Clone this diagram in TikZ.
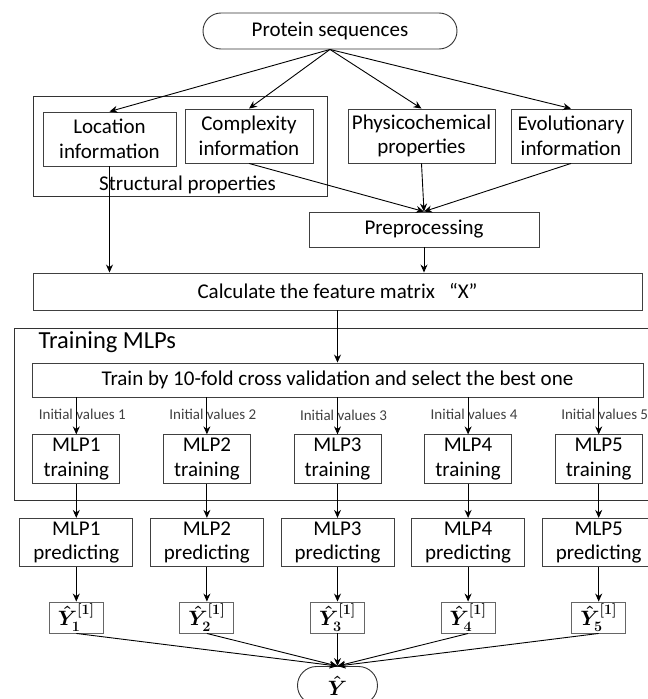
\documentclass[tikz,border=0pt]{standalone}
\usepackage{fontspec}
\setmainfont{Carlito}
\usepackage{amsmath}
\usetikzlibrary{arrows.meta, positioning}
\newcommand{\mainsize}{\fontsize{21}{24.5}\selectfont}
\newcommand{\smallsize}{\fontsize{15}{17}\selectfont}
\newcommand{\titlesize}{\fontsize{24.5}{29}\selectfont}
\tikzstyle{source} = [rectangle, rounded corners=18pt, minimum width=254pt, minimum height=36pt, text centered, draw=black!80, line width=0.9pt]
\tikzstyle{feature} = [rectangle, minimum height=54pt, text centered, draw=black!75, line width=0.9pt]
\tikzstyle{group} = [rectangle, draw=black!80, line width=0.9pt]
\tikzstyle{stage} = [rectangle, text centered, draw=black!75, line width=0.9pt]
\tikzstyle{mlp} = [rectangle, minimum width=87pt, minimum height=48pt, text centered, draw=black!75, line width=0.9pt]
\tikzstyle{predict} = [rectangle, minimum width=113pt, minimum height=48pt, text centered, draw=black!75, line width=0.9pt]
\tikzstyle{result} = [rectangle, minimum width=54pt, minimum height=31pt, inner sep=1pt, text centered, draw=black!60, line width=0.9pt]
\tikzstyle{final} = [rectangle, rounded corners=19pt, minimum width=80pt, minimum height=38pt, draw=black!80, line width=0.9pt]
\tikzstyle{initval} = [font=\smallsize, text=black!75, inner sep=0pt]
\tikzstyle{arrow} = [line width=0.9pt,-{Stealth[length=8pt,width=7pt]}]

\begin{document}
\begin{tikzpicture}[node distance=60pt, every node/.style={font=\mainsize}, align=center]
\useasboundingbox (-330pt,31pt) rectangle (318pt,-668pt);

% Input sequences
\node (prot) [source] {Protein sequences};

% Feature groups
\node (struct) [group, below of=prot, xshift=-150pt, yshift=-55pt, minimum width=294pt, minimum height=100pt] {};
\node (structlabel) [below of=struct, xshift=7.5pt, yshift=21pt, inner sep=0pt] {Structural properties};
\node (cplx) [feature, below of=prot, xshift=-81pt, yshift=-45pt, minimum width=128pt] {Complexity\\information};
\node (loc) [feature, left of=cplx, xshift=-79.5pt, yshift=-3pt, minimum width=133pt] {Location\\information};
\node (phys) [feature, below of=prot, xshift=91.5pt, yshift=-45pt, minimum width=147pt] {Physicochemical\\properties};
\node (evol) [feature, right of=phys, xshift=89.5pt, minimum width=120pt] {Evolutionary\\information};

\node (prep) [stage, below of=phys, xshift=2.5pt, yshift=-33.5pt, minimum width=230pt, minimum height=35pt] {Preprocessing};
\node (calc) [stage, below of=prep, xshift=-86.5pt, yshift=-2pt, minimum width=609pt, minimum height=37pt] {Calculate the feature matrix \hspace{0.45em}“X”};

% Training block
\node (train) [group, below of=calc, xshift=-0.5pt, yshift=-62.5pt, minimum width=646pt, minimum height=172pt] {};
\node (trainlabel) [right=25pt of train.north west, yshift=-15pt, inner sep=0pt, font=\titlesize] {Training MLPs};
\node (tenfold) [stage, below of=calc, yshift=-28.5pt, minimum width=611pt, minimum height=34pt] {Train by 10-fold cross validation and select the best one};

\node (mlp3) [mlp, below of=tenfold, yshift=-19pt] {MLP3\\training};
\node (mlp2) [mlp, left of=mlp3, xshift=-70.6pt] {MLP2\\training};
\node (mlp1) [mlp, left of=mlp2, xshift=-70.6pt] {MLP1\\training};
\node (mlp4) [mlp, right of=mlp3, xshift=70.6pt] {MLP4\\training};
\node (mlp5) [mlp, right of=mlp4, xshift=70.6pt] {MLP5\\training};

\node (init1) [initval, above of=mlp1, xshift=6pt, yshift=-15pt] {Initial values 1};
\node (init2) [initval, above of=mlp2, xshift=6pt, yshift=-15pt] {Initial values 2};
\node (init3) [initval, above of=mlp3, xshift=6pt, yshift=-16pt] {Initial values 3};
\node (init4) [initval, above of=mlp4, xshift=6pt, yshift=-15pt] {Initial values 4};
\node (init5) [initval, above of=mlp5, xshift=6pt, yshift=-15pt] {Initial values 5};

% Prediction
\node (pred1) [predict, below of=mlp1, yshift=-23.5pt] {MLP1\\predicting};
\node (pred2) [predict, below of=mlp2, yshift=-23.5pt] {MLP2\\predicting};
\node (pred3) [predict, below of=mlp3, yshift=-23.5pt] {MLP3\\predicting};
\node (pred4) [predict, below of=mlp4, yshift=-23.5pt] {MLP4\\predicting};
\node (pred5) [predict, below of=mlp5, yshift=-23.5pt] {MLP5\\predicting};

\node (y1) [result, below of=pred1, yshift=-15pt] {$\boldsymbol{\hat{Y}^{[1]}_{1}}$};
\node (y2) [result, below of=pred2, yshift=-15pt] {$\boldsymbol{\hat{Y}^{[1]}_{2}}$};
\node (y3) [result, below of=pred3, yshift=-15pt] {$\boldsymbol{\hat{Y}^{[1]}_{3}}$};
\node (y4) [result, below of=pred4, yshift=-15pt] {$\boldsymbol{\hat{Y}^{[1]}_{4}}$};
\node (y5) [result, below of=pred5, yshift=-15pt] {$\boldsymbol{\hat{Y}^{[1]}_{5}}$};

\node (out) [final, below of=y3, yshift=-8pt] {$\boldsymbol{\hat{Y}}$};

\draw[arrow] (prot.south) -- (loc.north);
\draw[arrow] (prot.south) -- (cplx.north);
\draw[arrow] (prot.south) -- (phys.north);
\draw[arrow] (prot.south) -- (evol.north);
\draw[arrow] (loc.south) -- (loc.south |- calc.north);
\draw[arrow] (cplx.south) -- (prep.north);
\draw[arrow] (phys.south) -- (prep.north);
\draw[arrow] (evol.south) -- (prep.north);
\draw[arrow] (prep.south) -- (prep.south |- calc.north);
\draw[arrow] (calc.south) -- (tenfold.north);

\draw[arrow] (tenfold.south -| mlp1.north) -- (mlp1.north);
\draw[arrow] (tenfold.south -| mlp2.north) -- (mlp2.north);
\draw[arrow] (tenfold.south -| mlp3.north) -- (mlp3.north);
\draw[arrow] (tenfold.south -| mlp4.north) -- (mlp4.north);
\draw[arrow] (tenfold.south -| mlp5.north) -- (mlp5.north);

\draw[arrow] (mlp1) -- (pred1);
\draw[arrow] (mlp2) -- (pred2);
\draw[arrow] (mlp3) -- (pred3);
\draw[arrow] (mlp4) -- (pred4);
\draw[arrow] (mlp5) -- (pred5);

\draw[arrow] (pred1) -- (y1);
\draw[arrow] (pred2) -- (y2);
\draw[arrow] (pred3) -- (y3);
\draw[arrow] (pred4) -- (y4);
\draw[arrow] (pred5) -- (y5);

\draw[arrow] (y1.south) -- (out.north);
\draw[arrow] (y2.south) -- (out.north);
\draw[arrow] (y3.south) -- (out.north);
\draw[arrow] (y4.south) -- (out.north);
\draw[arrow] (y5.south) -- (out.north);

\end{tikzpicture}
\end{document}
